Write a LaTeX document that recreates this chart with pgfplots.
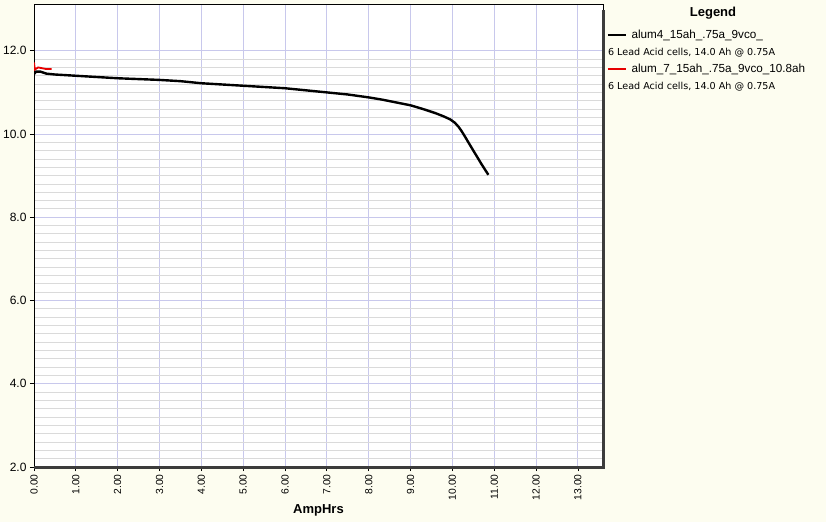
\documentclass[border=0pt]{standalone}
\usepackage{pgfplots}
\pgfplotsset{compat=1.18}
\usepackage{fontspec}
\setmainfont{Liberation Sans}
\newfontfamily\descfont{DejaVu Sans}
\definecolor{bgivory}{RGB}{253,253,240}
\definecolor{gridblue}{RGB}{200,200,236}
\definecolor{gridgray}{RGB}{218,218,218}
\definecolor{shadow}{RGB}{60,60,60}
\definecolor{curvered}{RGB}{230,0,0}
\begin{document}
\begin{tikzpicture}
\fill[bgivory] (-34pt,-55pt) rectangle (792pt,467pt);
\begin{axis}[
  at={(0pt,0pt)}, anchor=south west,
  scale only axis, width=569pt, height=462pt,
  xmin=0, xmax=13.6, ymin=2, ymax=13.1,
  axis background/.style={fill=white},
  xtick={0,1,...,13}, ytick={2,4,...,12},
  minor y tick num=9,
  xmajorgrids, ymajorgrids, yminorgrids,
  major grid style={color=gridblue, line width=0.9pt},
  minor grid style={color=gridgray, line width=0.9pt},
  tick align=outside, major tick length=4pt, minor tick length=0pt,
  tick style={black, line width=0.8pt},
  xtick pos=bottom, ytick pos=left,
  axis line style={black, line width=1pt},
  /pgf/number format/assume math mode=true,
  xticklabel style={font=\fontsize{10.3}{12}\selectfont, rotate=90, anchor=east,
    /pgf/number format/.cd, fixed, fixed zerofill, precision=2},
  yticklabel style={font=\fontsize{12}{14}\selectfont,
    /pgf/number format/.cd, fixed, fixed zerofill, precision=1},
  xlabel={AmpHrs},
  xlabel style={font=\bfseries\fontsize{13}{15}\selectfont, at={(axis description cs:0.5,0)}, anchor=center, yshift=-43.5pt},
  legend image code/.code={\draw[#1] (0pt,0pt) -- (18pt,0pt);},
  legend cell align=left,
  legend style={at={(axis description cs:1.006,0.9502)}, anchor=north west, draw=none, fill=none,
    inner sep=0pt, row sep=3.7pt, font=\fontsize{11.7}{13}\selectfont},
  after end axis/.code={
    \draw[shadow, line width=3pt] (rel axis cs:0,0) -- (rel axis cs:1,0) -- (rel axis cs:1,0.99);
  },
]
\addplot[black, line width=2.4pt] coordinates {
(0,11.44) (0.05,11.50) (0.15,11.50) (0.3,11.45) (0.5,11.43) (1,11.40) (1.5,11.37)
(2,11.34) (2.5,11.32) (3,11.30) (3.5,11.27) (4,11.22) (4.5,11.19) (5,11.16)
(5.5,11.13) (6,11.10) (6.5,11.05) (7,11.00) (7.5,10.95) (8,10.88) (8.3,10.83)
(8.7,10.75) (9,10.69) (9.3,10.60) (9.6,10.50) (9.8,10.42) (9.95,10.35) (10.06,10.27)
(10.15,10.17) (10.22,10.07) (10.3,9.94) (10.4,9.77) (10.55,9.52) (10.7,9.27) (10.86,9.02)
};
\addlegendentry{\hspace*{2.5pt}alum4\_15ah\_.75a\_9vco\_}
\addlegendimage{empty legend}
\addlegendentry{\hspace*{-21pt}{\descfont\fontsize{9.6}{11}\selectfont 6 Lead Acid cells, 14.0 Ah @ 0.75A}}
\addplot[curvered, line width=1.8pt] coordinates {
(0,11.72) (0.02,11.55) (0.1,11.60) (0.2,11.58) (0.3,11.56) (0.42,11.56)
};
\addlegendentry{\hspace*{2.5pt}alum\_7\_15ah\_.75a\_9vco\_10.8ah}
\addlegendimage{empty legend}
\addlegendentry{\hspace*{-21pt}{\descfont\fontsize{9.6}{11}\selectfont 6 Lead Acid cells, 14.0 Ah @ 0.75A}}
\end{axis}
\node[font=\bfseries\fontsize{13}{15}\selectfont] at (679pt,454pt) {Legend};
\pgfresetboundingbox
\useasboundingbox (-34pt,-55pt) rectangle (792pt,467pt);
\end{tikzpicture}
\end{document}
